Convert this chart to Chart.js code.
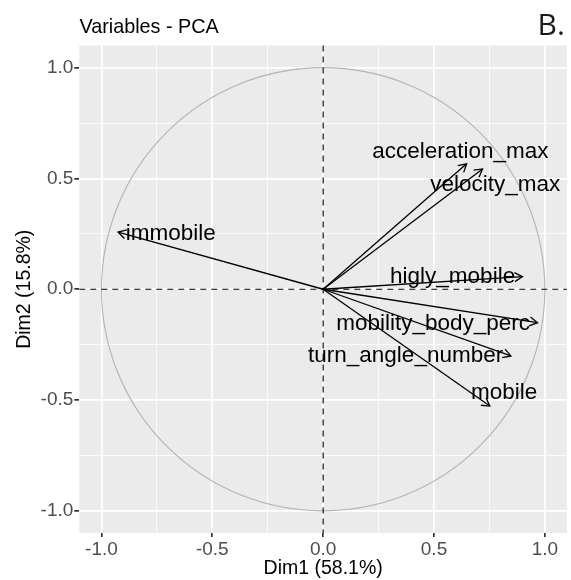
<!DOCTYPE html>
<html><head><meta charset="utf-8">
<script src="https://cdn.jsdelivr.net/npm/chart.js@4.4.0/dist/chart.umd.min.js"></script>
<style>html,body{margin:0;padding:0;background:#fff;}#wrap{width:571px;height:580px;position:relative}</style>
</head><body><div id="wrap"><canvas id="c" width="571" height="580"></canvas></div>
<script>
// ---- data ----
const variables = ['acceleration_max','velocity_max','immobile','higly_mobile','mobility_body_perc','turn_angle_number','mobile'];
const dim1 = [0.647, 0.719, -0.925, 0.899, 0.967, 0.847, 0.752];
const dim2 = [0.566, 0.543, 0.258, 0.057, -0.151, -0.301, -0.527];
const labelDim1 = [0.619, 0.776, -0.687, 0.584, 0.496, 0.372, 0.816];
const labelDim2 = [0.621, 0.470, 0.251, 0.056, -0.156, -0.302, -0.468];
const tickValues = [-1, -0.75, -0.5, -0.25, 0, 0.25, 0.5, 0.75, 1];
const tickLabels = ['-1.0', '', '-0.5', '', '0.0', '', '0.5', '', '1.0'];
const majorTicks = [-1, -0.5, 0, 0.5, 1];
const xTitle = 'Dim1 (58.1%)';
const yTitle = 'Dim2 (15.8%)';
const plotTitle = 'Variables - PCA';
const panelTag = 'B.';

const FONT = '"Liberation Sans", Arial, sans-serif';
const isMajor = v => majorTicks.includes(v);

const datasets = variables.map((name, i) => ({
  label: name,
  data: [{x: 0, y: 0}, {x: dim1[i], y: dim2[i]}],
  showLine: true,
  borderColor: '#000',
  borderWidth: 1.3,
  pointRadius: 0,
  fill: false
}));

const bgPlugin = {
  id: 'bg',
  beforeDraw(chart) {
    const {ctx, chartArea: a} = chart;
    ctx.save();
    ctx.fillStyle = '#EBEBEB';
    ctx.fillRect(a.left, a.top, a.right - a.left, a.bottom - a.top);
    ctx.restore();
  },
  beforeDatasetsDraw(chart) {
    const {ctx, chartArea: a, scales: {x, y}} = chart;
    const x0 = x.getPixelForValue(0), y0 = y.getPixelForValue(0);
    const rx = x.getPixelForValue(1) - x0, ry = y0 - y.getPixelForValue(1);
    ctx.save();
    ctx.strokeStyle = '#B3B3B3';
    ctx.lineWidth = 1.1;
    ctx.beginPath();
    ctx.ellipse(x0, y0, rx, ry, 0, 0, Math.PI * 2);
    ctx.stroke();
    ctx.strokeStyle = '#000';
    ctx.lineWidth = 1.1;
    ctx.setLineDash([6, 5]);
    ctx.beginPath();
    ctx.moveTo(a.left, y0); ctx.lineTo(a.right, y0);
    ctx.moveTo(x0, a.top); ctx.lineTo(x0, a.bottom);
    ctx.stroke();
    ctx.restore();
  },
  afterDatasetsDraw(chart) {
    const {ctx, scales: {x, y}} = chart;
    ctx.save();
    ctx.strokeStyle = '#000';
    ctx.lineWidth = 1.3;
    chart.data.datasets.forEach((ds, i) => {
      const pts = chart.getDatasetMeta(i).data;
      const p0 = pts[0], p1 = pts[1];
      const ang = Math.atan2(p1.y - p0.y, p1.x - p0.x);
      const L = 9, w = Math.PI / 6;
      ctx.beginPath();
      ctx.moveTo(p1.x - L * Math.cos(ang - w), p1.y - L * Math.sin(ang - w));
      ctx.lineTo(p1.x, p1.y);
      ctx.lineTo(p1.x - L * Math.cos(ang + w), p1.y - L * Math.sin(ang + w));
      ctx.stroke();
    });
    ctx.fillStyle = '#000';
    ctx.font = '22.5px ' + FONT;
    ctx.textAlign = 'center';
    ctx.textBaseline = 'middle';
    variables.forEach((name, i) => {
      ctx.fillText(name, x.getPixelForValue(labelDim1[i]), y.getPixelForValue(labelDim2[i]));
    });
    ctx.restore();
  },
  afterDraw(chart) {
    const {ctx} = chart;
    ctx.save();
    ctx.fillStyle = '#000';
    ctx.textBaseline = 'alphabetic';
    ctx.textAlign = 'left';
    ctx.font = '19.8px ' + FONT;
    ctx.fillText(plotTitle, 79.5, 33.3);
    ctx.fillStyle = '#1a1a1a';
    ctx.font = '30px "Open Sans", sans-serif';
    ctx.fillText(panelTag, 537.5, 35);
    ctx.restore();
  }
};

const axis = (isX) => ({
  type: 'linear',
  min: -1.1,
  max: 1.1,
  afterBuildTicks: s => { s.ticks = tickValues.map(v => ({value: v})); },
  afterFit: s => { if (isX) s.height = 47; else s.width = 79.3; },
  ticks: {
    autoSkip: false,
    maxRotation: 0,
    padding: 1,
    color: '#4D4D4D',
    font: {family: FONT, size: 19},
    callback: (v) => tickLabels[tickValues.indexOf(v)]
  },
  grid: {
    color: '#FFFFFF',
    lineWidth: c => (c.tick && isMajor(c.tick.value)) ? 1.7 : 0.8,
    tickColor: c => (c.tick && isMajor(c.tick.value)) ? '#333333' : 'rgba(0,0,0,0)',
    tickLength: isX ? 4 : 5,
    drawTicks: true
  },
  border: {display: false},
  title: {
    display: true,
    text: isX ? xTitle : yTitle,
    color: '#000',
    font: {family: FONT, size: 19.5, lineHeight: 1},
    padding: isX ? {top: 0, bottom: 2} : {top: 15, bottom: 0}
  }
});

new Chart(document.getElementById('c'), {
  type: 'scatter',
  data: {datasets},
  options: {
    responsive: false,
    animation: false,
    devicePixelRatio: 1,
    layout: {padding: {top: 45.5, right: 4, left: 0, bottom: 0}},
    plugins: {legend: {display: false}, tooltip: {enabled: false}},
    scales: {x: axis(true), y: axis(false)}
  },
  plugins: [bgPlugin]
});
</script></body></html>
